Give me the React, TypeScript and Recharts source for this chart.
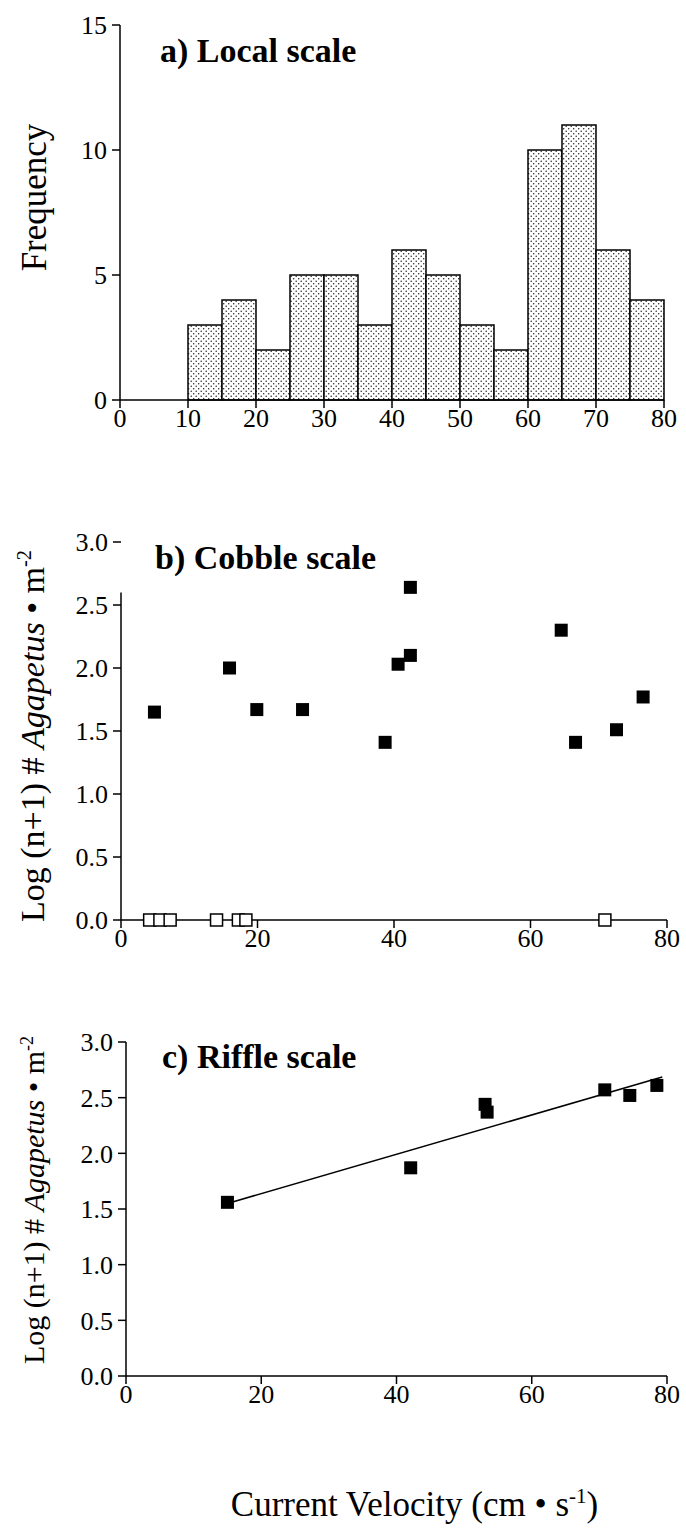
import {
  Bar,
  ComposedChart,
  Label,
  ReferenceLine,
  Scatter,
  ScatterChart,
  XAxis,
  YAxis,
} from 'recharts'

// a) local scale histogram, 5 cm/s bins
const binStarts = [0, 5, 10, 15, 20, 25, 30, 35, 40, 45, 50, 55, 60, 65, 70, 75]
const localFrequency = [0, 0, 3, 4, 2, 5, 5, 3, 6, 5, 3, 2, 10, 11, 6, 4]

// b) cobble scale, filled = present, open = zero
const cobbleVelocity = [4.9, 15.9, 19.9, 26.6, 38.7, 40.6, 42.4, 42.4, 64.5, 66.6, 72.6, 76.5]
const cobbleLog = [1.65, 2.0, 1.67, 1.67, 1.41, 2.03, 2.1, 2.64, 2.3, 1.41, 1.51, 1.77]
const cobbleZeroVelocity = [4.2, 5.7, 7.2, 14.0, 17.2, 18.3, 70.9]

// c) riffle scale + fitted line
const riffleVelocity = [15.0, 42.1, 53.1, 53.4, 70.8, 74.5, 78.5]
const riffleLog = [1.56, 1.87, 2.44, 2.37, 2.57, 2.52, 2.61]
const fitVelocity = [15, 79.3]
const fitLog = [1.55, 2.685]

const histTicks = [0, 10, 20, 30, 40, 50, 60, 70, 80]
const freqTicks = [0, 5, 10, 15]
const velocityTicks = [0, 20, 40, 60, 80]
const logTicks = [0, 0.5, 1, 1.5, 2, 2.5, 3]

const FONT = '"Liberation Serif", "Times New Roman", serif'
const tickStyle = { fontSize: 26, fill: '#000', fontFamily: FONT }
const axisStroke = { stroke: '#000', strokeWidth: 1.5 }

const histData = binStarts.map((s, i) => ({ bin: `${s}-${s + 5}`, start: s, count: localFrequency[i] }))
const cobbleData = cobbleVelocity.map((x, i) => ({ x, y: cobbleLog[i] }))
const cobbleZeroData = cobbleZeroVelocity.map((x) => ({ x, y: 0 }))
const riffleData = riffleVelocity.map((x, i) => ({ x, y: riffleLog[i] }))
const fitData = fitVelocity.map((x, i) => ({ x, y: fitLog[i] }))

const FilledSquare = (p: any) => (
  <rect x={p.cx - 6.5} y={p.cy - 6.5} width={13} height={13} fill="#000" />
)
const OpenSquare = (p: any) => (
  <rect x={p.cx - 6} y={p.cy - 6} width={12} height={12} fill="#fff" stroke="#000" strokeWidth={1.5} />
)
const NoDot = () => <g />

function FreqLabel(props: any) {
  const vb = props.viewBox
  const cx = 46
  const cy = vb.y + vb.height / 2 - 15
  return (
    <text x={cx} y={cy} transform={`rotate(-90 ${cx} ${cy})`} textAnchor="middle" fontFamily={FONT} fontSize={35} fill="#000">
      Frequency
    </text>
  )
}

function LogLabel(props: any) {
  const vb = props.viewBox
  const cx = 44
  const cy = vb.y + vb.height / 2 + (props.shift ?? 0)
  const fs = props.fs ?? 32
  return (
    <text x={cx} y={cy} transform={`rotate(-90 ${cx} ${cy})`} textAnchor="middle" fontFamily={FONT} fontSize={fs} fill="#000">
      Log (n+1) # <tspan fontStyle="italic">Agapetus</tspan> • m<tspan dy={-fs * 0.38} fontSize={fs * 0.6}>-2</tspan>
    </text>
  )
}

function VelocityLabel(props: any) {
  const vb = props.viewBox
  const cx = vb.x + vb.width / 2 + 18
  const cy = vb.y + 140
  return (
    <text x={cx} y={cy} textAnchor="middle" fontFamily={FONT} fontSize={35} fill="#000">
      Current Velocity (cm • s<tspan dy={-13} fontSize={21}>-1</tspan>
      <tspan dy={13}>)</tspan>
    </text>
  )
}

const titleStyle = (left: number, top: number): React.CSSProperties => ({
  position: 'absolute',
  left,
  top,
  fontFamily: FONT,
  fontWeight: 'bold',
  fontSize: 34,
  lineHeight: '34px',
  whiteSpace: 'nowrap',
  color: '#000',
})

export default function App() {
  return (
    <div style={{ position: 'absolute', left: 0, top: 0, width: 686, height: 1538, background: '#fff' }}>
      {/* a) Local scale */}
      <div style={{ position: 'absolute', left: 0, top: 0 }}>
        <ComposedChart
          width={686}
          height={440}
          data={histData}
          barCategoryGap={0}
          barGap={0}
          margin={{ top: 25, right: 22, bottom: 0, left: 0 }}
        >
          <defs>
            <pattern id="stipple" width={5} height={5} patternUnits="userSpaceOnUse">
              <rect width={5} height={5} fill="#fff" />
              <circle cx={1.2} cy={1.2} r={0.75} fill="#222" />
              <circle cx={3.7} cy={3.7} r={0.75} fill="#222" />
            </pattern>
          </defs>
          <XAxis
            xAxisId="v"
            type="number"
            dataKey="start"
            domain={[0, 80]}
            ticks={histTicks}
            height={40}
            tick={tickStyle}
            tickSize={8}
            tickMargin={1}
            axisLine={axisStroke}
            tickLine={axisStroke}
          />
          <XAxis xAxisId="bins" dataKey="bin" hide height={0} />
          <YAxis
            domain={[0, 15]}
            ticks={freqTicks}
            width={120}
            tick={tickStyle}
            tickSize={8}
            tickMargin={5}
            axisLine={axisStroke}
            tickLine={axisStroke}
            label={<Label content={FreqLabel} />}
          />
          <Bar
            xAxisId="bins"
            dataKey="count"
            fill="url(#stipple)"
            stroke="#000"
            strokeWidth={1.5}
            isAnimationActive={false}
          />
        </ComposedChart>
      </div>
      <div style={titleStyle(160, 34)}>a) Local scale</div>

      {/* b) Cobble scale */}
      <div style={{ position: 'absolute', left: 0, top: 470 }}>
        <ScatterChart width={686} height={490} margin={{ top: 72, right: 19, bottom: 0, left: 0 }}>
          <XAxis
            type="number"
            dataKey="x"
            domain={[0, 80]}
            ticks={velocityTicks}
            height={40}
            tick={tickStyle}
            tickSize={8}
            tickMargin={1}
            axisLine={axisStroke}
            tickLine={axisStroke}
          />
          <YAxis
            type="number"
            dataKey="y"
            domain={[0, 3]}
            ticks={logTicks}
            tickFormatter={(v: number) => v.toFixed(1)}
            width={121}
            tick={tickStyle}
            tickSize={8}
            tickMargin={5}
            axisLine={false}
            tickLine={axisStroke}
            label={<Label content={(p: any) => <LogLabel {...p} shift={5} fs={34} />} />}
          />
          <ReferenceLine
            segment={[
              { x: 0, y: 0 },
              { x: 0, y: 2.6 },
            ]}
            stroke="#000"
            strokeWidth={1.5}
          />
          <Scatter data={cobbleZeroData} shape={OpenSquare} isAnimationActive={false} />
          <Scatter data={cobbleData} shape={FilledSquare} isAnimationActive={false} />
        </ScatterChart>
      </div>
      <div style={titleStyle(155, 541)}>b) Cobble scale</div>

      {/* c) Riffle scale */}
      <div style={{ position: 'absolute', left: 0, top: 990 }}>
        <ScatterChart width={686} height={548} margin={{ top: 52, right: 19, bottom: 0, left: 0 }}>
          <XAxis
            type="number"
            dataKey="x"
            domain={[0, 80]}
            ticks={velocityTicks}
            height={162}
            tick={tickStyle}
            tickSize={8}
            tickMargin={1}
            axisLine={axisStroke}
            tickLine={axisStroke}
            label={<Label content={VelocityLabel} />}
          />
          <YAxis
            type="number"
            dataKey="y"
            domain={[0, 3]}
            ticks={logTicks}
            tickFormatter={(v: number) => v.toFixed(1)}
            width={126}
            tick={tickStyle}
            tickSize={8}
            tickMargin={5}
            axisLine={axisStroke}
            tickLine={axisStroke}
            label={<Label content={(p: any) => <LogLabel {...p} shift={-9} fs={30} />} />}
          />
          <Scatter
            data={fitData}
            line={{ stroke: '#000', strokeWidth: 1.5 }}
            shape={NoDot}
            isAnimationActive={false}
          />
          <Scatter data={riffleData} shape={FilledSquare} isAnimationActive={false} />
        </ScatterChart>
      </div>
      <div style={titleStyle(162, 1040)}>c) Riffle scale</div>
    </div>
  )
}
